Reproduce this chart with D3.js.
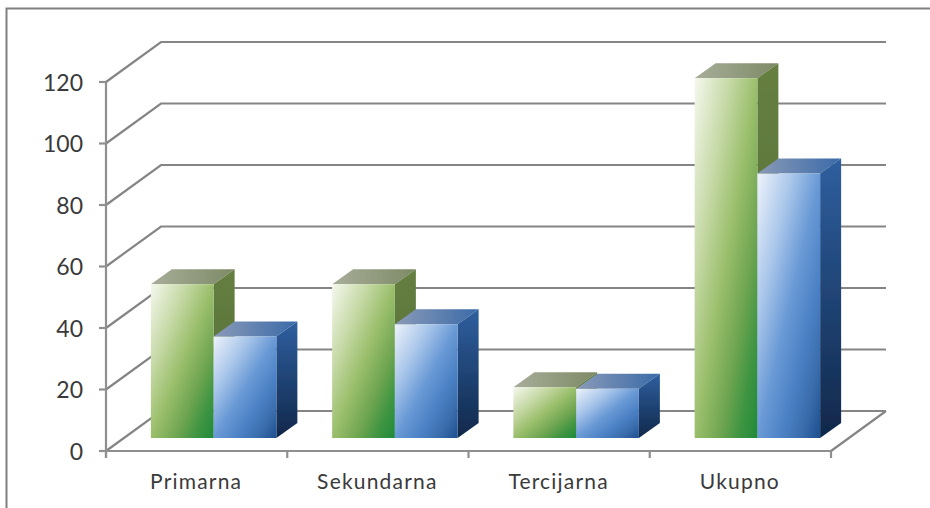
<!DOCTYPE html>
<html><head><meta charset="utf-8">
<style>html,body{margin:0;padding:0;background:#fff}svg{display:block}text{font-family:"Lato",sans-serif;fill:#3a3a3a}</style>
<script src="https://cdn.jsdelivr.net/npm/d3@7"></script></head><body>
<svg id="c" width="930" height="508"></svg>
<script>
const categories=["Primarna","Sekundarna","Tercijarna","Ukupno"];
const greenValues=[50,50,16.5,117];
const blueValues=[33,37,16,86];
const yTicks=[0,20,40,60,80,100,120];
const W=930,H=508,wallDx=55,wallDy=-40,barDx=21,barDy=-15,baseDx=17,baseDy=-13;
const svg=d3.select("#c");
const defs=svg.append("defs");
defs.append("filter").attr("id","soft").append("feGaussianBlur").attr("stdDeviation",0.6);
function grad(id,stops,x2,y2){
  const g=defs.append("linearGradient").attr("id",id).attr("x1",0).attr("y1",0).attr("x2",x2).attr("y2",y2);
  stops.forEach(s=>g.append("stop").attr("offset",s[0]).attr("stop-color",s[1]));
}
grad("gF",[[0,"#f5f8ee"],[.28,"#c6d9a6"],[.5,"#9bbf6c"],[.7,"#6fa551"],[.85,"#3f9542"],[1,"#1f8a3a"]],1,1);
grad("bF",[[0,"#eef3fb"],[.28,"#a9c6ea"],[.5,"#6a9ad6"],[.7,"#4a80c4"],[.85,"#3a6cab"],[1,"#1d4f8f"]],1,1);
grad("gS",[[0,"#667f42"],[1,"#4f6b32"]],0,1);
grad("bS",[[0,"#2f5f9f"],[1,"#10284a"]],0,1);
grad("gT",[[0,"#a8ad99"],[1,"#7d8a66"]],1,0);
grad("bT",[[0,"#8a9ab8"],[1,"#3a6aa8"]],1,0);

const y=d3.scaleLinear().domain([0,120]).range([451,82]);
const x=d3.scaleBand().domain(categories).range([106,831]);
const inner=d3.scaleBand().domain(["g","b"]).range([0,125.5]);
const root=svg.append("g").attr("filter","url(#soft)");

// outer frame
root.append("path").attr("d",`M6.5 ${H}V8.5H${W}`).attr("fill","none").attr("stroke","#808080").attr("stroke-width",2);

// gridlines
const grid=root.append("g").attr("fill","none").attr("stroke","#858585").attr("stroke-width",2.2);
grid.selectAll("path").data(yTicks).join("path")
  .attr("d",d=>`M106 ${y(d)}L${106+wallDx} ${y(d)+wallDy}H${831+wallDx}`);
grid.append("path").attr("d",`M831 451L${831+wallDx} ${451+wallDy}`);

// axes
const ax=root.append("g").attr("stroke","#8f8f8f").attr("stroke-width",2.2).attr("fill","none");
ax.append("path").attr("d",`M106 ${y(120)}V458M106 451H831`);
ax.selectAll(".yt").data(yTicks).join("line").attr("class","yt").attr("x1",99).attr("x2",106).attr("y1",d=>y(d)).attr("y2",d=>y(d));
const xEdges=categories.map(c=>x(c)).concat([831]);
ax.selectAll(".xt").data(xEdges).join("line").attr("class","xt").attr("x1",d=>d).attr("x2",d=>d).attr("y1",451).attr("y2",458);

// bars
const barG=root.append("g");
function bar(cat,val,key){
  const w=inner.bandwidth();
  const x0=x(cat)+(x.bandwidth()-125.5)/2+inner(key)+baseDx;
  const yb=y(0)+baseDy, yt=y(val)+baseDy;
  const g=barG.append("g");
  g.append("path").attr("fill",`url(#${key}T)`).attr("d",`M${x0} ${yt}l${barDx} ${barDy}h${w}l${-barDx} ${-barDy}z`);
  g.append("path").attr("fill",`url(#${key}S)`).attr("d",`M${x0+w} ${yt}l${barDx} ${barDy}V${yb+barDy}l${-barDx} ${-barDy}z`);
  g.append("rect").attr("fill",`url(#${key}F)`).attr("x",x0).attr("y",yt).attr("width",w).attr("height",yb-yt);
}
categories.forEach((c,i)=>{bar(c,greenValues[i],"g");bar(c,blueValues[i],"b");});

// labels
svg.append("g").selectAll("text").data(yTicks).join("text")
  .attr("x",83).attr("y",d=>y(d)+8.5).attr("text-anchor","end").attr("font-size",23).text(d=>d);
svg.append("g").selectAll("text").data(categories).join("text")
  .attr("x",d=>x(d)+x.bandwidth()/2-0.5).attr("y",489).attr("text-anchor","middle").attr("font-size",21).attr("letter-spacing",1.2).text(d=>d);
</script></body></html>
